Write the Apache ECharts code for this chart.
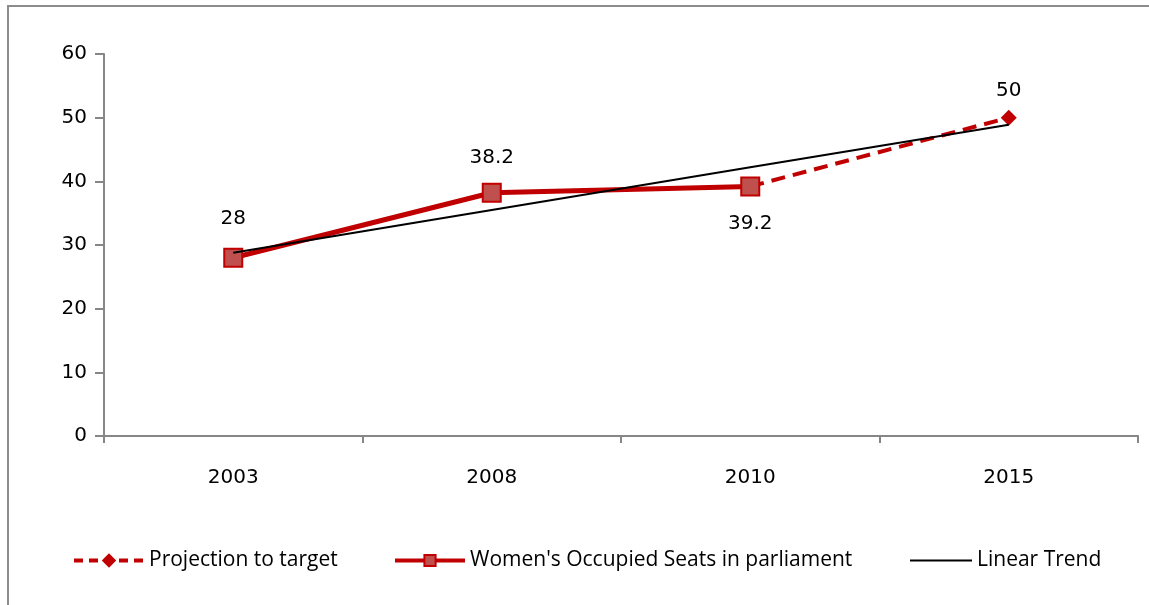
<!DOCTYPE html>
<html>
<head>
<meta charset="utf-8">
<script src="https://cdn.jsdelivr.net/npm/echarts@6/dist/echarts.min.js"></script>
<style>
html,body{margin:0;padding:0;background:#fff;}
#frame{position:absolute;left:7px;top:5px;width:1200px;height:700px;border-left:2px solid #8c8c8c;border-top:2px solid #8c8c8c;}
#chart{position:absolute;left:0;top:0;width:1149px;height:605px;}
</style>
</head>
<body>
<div id="frame"></div>
<div id="chart"></div>
<script>
const categories = ['2003', '2008', '2010', '2015'];
const womenSeats = [28, 38.2, 39.2, null];
const projection = [null, null, 39.2, 50];
const linearTrend = [28.8, 35.5, 42.2, 48.9];
const yTicks = [0, 10, 20, 30, 40, 50, 60];
const labelOffsets = {womenSeats: [-39, -35, 37, 0], projection: [0, 0, 0, -27]};

const RED = '#c00000';
const FILL = '#c0504d';
const lblFont = {fontFamily: 'DejaVu Sans', fontSize: 20, color: '#000'};

const chart = echarts.init(document.getElementById('chart'), null, {renderer: 'canvas'});
const legendText = {fontFamily: 'Open Sans', fontSize: 21, color: '#000'};
chart.setOption({
  animation: false,
  grid: {left: 104, right: 11, top: 54, bottom: 169, containLabel: false},
  xAxis: {
    type: 'category',
    data: categories,
    boundaryGap: true,
    axisLine: {lineStyle: {color: '#868686', width: 2}},
    axisTick: {show: true, length: 7, interval: 0, lineStyle: {color: '#868686', width: 2}},
    axisLabel: Object.assign({margin: 32}, lblFont)
  },
  yAxis: {
    type: 'value',
    min: yTicks[0], max: yTicks[yTicks.length - 1], interval: 10,
    axisLine: {show: true, lineStyle: {color: '#868686', width: 2}},
    axisTick: {show: true, length: 9, lineStyle: {color: '#868686', width: 2}},
    splitLine: {show: false},
    axisLabel: Object.assign({margin: 17}, lblFont)
  },
  legend: [
    {left: 67, top: 545, itemWidth: 70, itemHeight: 18, itemGap: 6, textStyle: legendText,
     lineStyle: {width: 4, type: [9, 6]}, data: ['Projection to target']},
    {left: 388, top: 545, itemWidth: 70, itemHeight: 14, textStyle: legendText,
     lineStyle: {width: 4}, data: ["Women's Occupied Seats in parliament"]},
    {left: 905, top: 545, itemWidth: 62, itemHeight: 2, textStyle: legendText,
     data: [{name: 'Linear Trend', icon: 'rect'}]}
  ],
  series: [
    {
      name: 'Projection to target',
      type: 'line',
      z: 2,
      data: projection.map((v, i) => v == null ? null : (i === projection.length - 1
        ? {value: v, symbol: 'diamond', symbolSize: 16, label: {show: true, position: 'inside', offset: [0, labelOffsets.projection[i]], formatter: String(v)}}
        : {value: v, symbol: 'none'})),
      symbol: 'diamond',
      symbolSize: 12,
      lineStyle: {color: RED, width: 4, type: [14, 8]},
      itemStyle: {color: RED},
      label: Object.assign({show: false}, lblFont)
    },
    {
      name: "Women's Occupied Seats in parliament",
      type: 'line',
      z: 3,
      data: womenSeats.map((v, i) => v == null ? null : {value: v, label: {show: true, position: 'inside', offset: [0, labelOffsets.womenSeats[i]], formatter: String(v)}}),
      symbol: 'rect',
      symbolSize: 18,
      lineStyle: {color: RED, width: 5},
      itemStyle: {color: FILL, borderColor: RED, borderWidth: 2},
      label: Object.assign({show: true}, lblFont)
    },
    {
      name: 'Linear Trend',
      type: 'line',
      z: 4,
      data: linearTrend,
      symbol: 'none',
      lineStyle: {color: '#000', width: 2},
      itemStyle: {color: '#000'}
    }
  ]
});
</script>
</body>
</html>
